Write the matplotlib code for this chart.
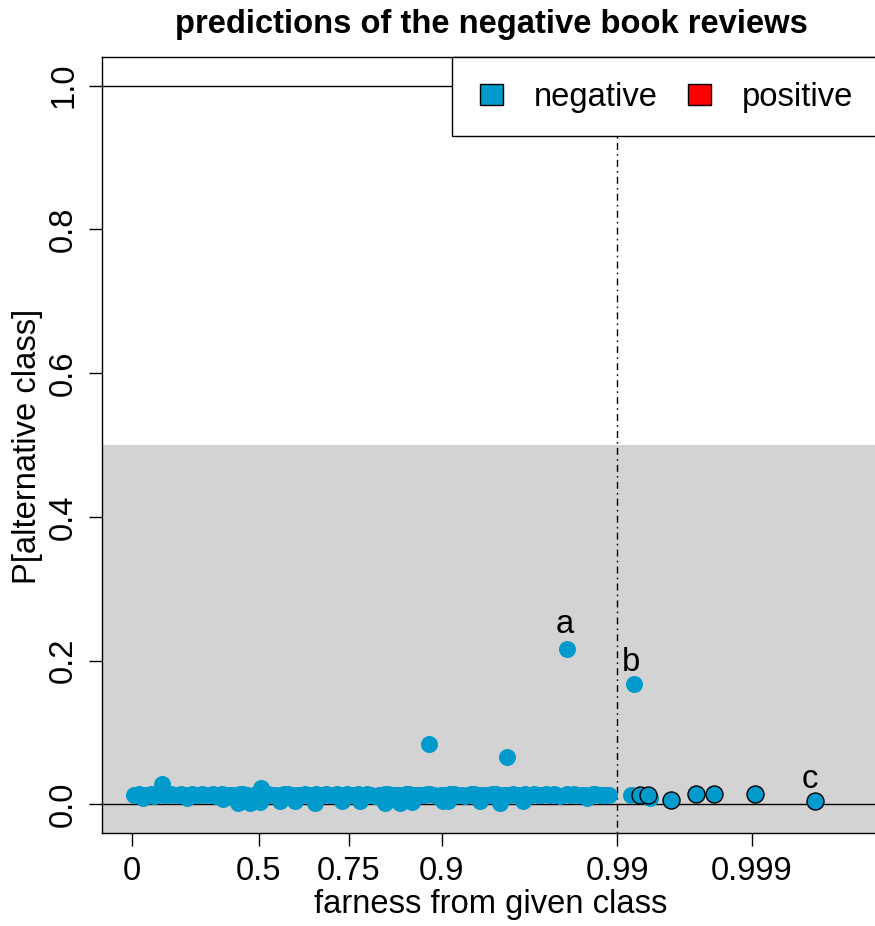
import math
import numpy as np
import matplotlib
matplotlib.use("Agg")
import matplotlib.pyplot as plt
from matplotlib.patches import Patch, Rectangle

plt.rcParams['font.family'] = ['Liberation Sans', 'DejaVu Sans']

# ---------------- data ----------------
title = "predictions of the negative book reviews"
xlabel = "farness from given class"
ylabel = "P[alternative class]"
legend_labels = ["negative", "positive"]
legend_colors = ["#009ACD", "#FF0000"]

x_ticks = [0, 0.5, 0.75, 0.9, 0.99, 0.999]
x_tick_labels = ["0", "0.5", "0.75", "0.9", "0.99", "0.999"]
y_ticks = [0.0, 0.2, 0.4, 0.6, 0.8, 1.0]
y_tick_labels = ["0.0", "0.2", "0.4", "0.6", "0.8", "1.0"]

# main band of negative reviews (farness, P[alternative])
band_x = [0.008, 0.032, 0.064, 0.096, 0.119, 0.151, 0.182, 0.205, 0.236, 0.266,
          0.289, 0.318, 0.347, 0.369, 0.397, 0.424, 0.445, 0.471, 0.497, 0.516,
          0.541, 0.564, 0.582, 0.604, 0.626, 0.642, 0.663, 0.683, 0.697, 0.715,
          0.733, 0.746, 0.762, 0.778, 0.789, 0.803, 0.816, 0.826, 0.838, 0.850,
          0.858, 0.869, 0.879, 0.886, 0.895, 0.903, 0.909, 0.916, 0.923, 0.928,
          0.934, 0.940, 0.944, 0.949, 0.953, 0.957, 0.961, 0.964, 0.967, 0.970,
          0.973, 0.975, 0.977, 0.980, 0.981, 0.983, 0.985, 0.986, 0.9876, 0.9886]
band_y = [0.013, 0.014, 0.013, 0.012, 0.014, 0.013, 0.013, 0.014, 0.012, 0.013,
          0.014, 0.013, 0.012, 0.014, 0.013, 0.013, 0.014, 0.012, 0.013, 0.014,
          0.013, 0.012, 0.014, 0.013, 0.013, 0.014, 0.012, 0.013, 0.014, 0.013,
          0.012, 0.014, 0.013, 0.013, 0.014, 0.012, 0.013, 0.014, 0.013, 0.012,
          0.014, 0.013, 0.013, 0.014, 0.012, 0.013, 0.014, 0.013, 0.012, 0.014,
          0.013, 0.013, 0.014, 0.012, 0.013, 0.014, 0.013, 0.012, 0.014, 0.013,
          0.013, 0.014, 0.012, 0.013, 0.014, 0.013, 0.012, 0.014, 0.013, 0.013]
band2_x = [0.020, 0.048, 0.080, 0.108, 0.135, 0.167, 0.194, 0.221, 0.251, 0.278,
           0.304, 0.333, 0.358, 0.383, 0.411, 0.435, 0.458, 0.484, 0.507, 0.529,
           0.553, 0.573, 0.593, 0.615, 0.634, 0.653, 0.673, 0.690, 0.706, 0.724,
           0.740, 0.754, 0.770, 0.784, 0.796, 0.810, 0.821, 0.832, 0.844, 0.854,
           0.864, 0.874, 0.883, 0.891, 0.899, 0.906, 0.913, 0.920, 0.926, 0.931,
           0.937, 0.942, 0.947, 0.951, 0.955, 0.959, 0.963, 0.966, 0.969, 0.972,
           0.974, 0.976, 0.979, 0.9805, 0.982, 0.984, 0.9855, 0.9868, 0.9881]
band2_y = [0.0135, 0.0125, 0.0140, 0.0135, 0.0125, 0.0140, 0.0135, 0.0130, 0.0140, 0.0125,
           0.0135, 0.0140, 0.0130, 0.0125, 0.0135, 0.0140, 0.0130, 0.0135, 0.0125, 0.0140,
           0.0135, 0.0130, 0.0140, 0.0125, 0.0135, 0.0130, 0.0140, 0.0135, 0.0125, 0.0140,
           0.0130, 0.0135, 0.0140, 0.0125, 0.0135, 0.0130, 0.0140, 0.0135, 0.0125, 0.0140,
           0.0130, 0.0135, 0.0140, 0.0125, 0.0135, 0.0130, 0.0140, 0.0135, 0.0125, 0.0140,
           0.0130, 0.0135, 0.0140, 0.0125, 0.0135, 0.0130, 0.0140, 0.0135, 0.0125, 0.0140,
           0.0130, 0.0135, 0.0140, 0.0125, 0.0135, 0.0130, 0.0140, 0.0135, 0.0130]

# points slightly below / above the band
low_x = [0.048, 0.2305, 0.372, 0.427, 0.470, 0.504, 0.568, 0.614, 0.669, 0.735,
         0.774, 0.821, 0.845, 0.863, 0.901, 0.907, 0.935, 0.949, 0.962, 0.9843]
low_y = [0.009, 0.009, 0.007, 0.002, 0.002, 0.003, 0.004, 0.004, 0.002, 0.004,
         0.004, 0.002, 0.002, 0.003, 0.004, 0.004, 0.004, 0.002, 0.005, 0.009]
high_x = [0.126, 0.507]
high_y = [0.028, 0.023]

# isolated points
iso_x = [0.885, 0.9535, 0.9791, 0.99235, 0.9919, 0.9940]
iso_y = [0.0834, 0.0663, 0.2156, 0.167, 0.013, 0.009]

# outlined points beyond 0.99
ring_x = [0.99300, 0.99385, 0.99575, 0.99722, 0.99800, 0.99905, 0.99971]
ring_y = [0.0125, 0.0125, 0.006, 0.014, 0.014, 0.014, 0.0045]

# labelled points
lab_text = ["a", "b", "c"]
lab_x = [0.9791, 0.99235, 0.99971]
lab_y = [0.2156, 0.167, 0.0045]

threshold_x = 0.99
gray_top = 0.5

# ---------------- half-normal quantile scale ----------------
_a = [-3.969683028665376e+01, 2.209460984245205e+02, -2.759285104469687e+02,
      1.383577518672690e+02, -3.066479806614716e+01, 2.506628277459239e+00]
_b = [-5.447609879822406e+01, 1.615858368580409e+02, -1.556989798598866e+02,
      6.680131188771972e+01, -1.328068155288572e+01]
_c = [-7.784894002430293e-03, -3.223964580411365e-01, -2.400758277161838e+00,
      -2.549732539343734e+00, 4.374664141464968e+00, 2.938163982698783e+00]
_d = [7.784695709041462e-03, 3.224671290700398e-01, 2.445134137142996e+00,
      3.754408661907416e+00]


def _tail(q):
    q = np.sqrt(-2.0 * np.log(q))
    num = ((((_c[0] * q + _c[1]) * q + _c[2]) * q + _c[3]) * q + _c[4]) * q + _c[5]
    den = (((_d[0] * q + _d[1]) * q + _d[2]) * q + _d[3]) * q + 1.0
    return num / den


def _ppf(p, pc):
    plow = 0.02425
    with np.errstate(all='ignore'):
        q = p - 0.5
        r = q * q
        central = (((((_a[0] * r + _a[1]) * r + _a[2]) * r + _a[3]) * r + _a[4]) * r + _a[5]) * q / \
                  (((((_b[0] * r + _b[1]) * r + _b[2]) * r + _b[3]) * r + _b[4]) * r + 1.0)
        low = _tail(np.clip(p, 1e-300, 1))
        high = -_tail(np.clip(pc, 1e-300, 1))
    return np.where(p < plow, low, np.where(pc < plow, high, central))


def fwd(x):
    x = np.clip(np.asarray(x, dtype=float), -1 + 1e-15, 1 - 1e-15)
    return _ppf((1 + x) / 2.0, (1 - x) / 2.0)


_erf = np.vectorize(math.erf)


def inv(t):
    t = np.asarray(t, dtype=float)
    return _erf(t / math.sqrt(2.0))


# ---------------- figure ----------------
fs = 23.6
blue = legend_colors[0]
fig = plt.figure(figsize=(8.75, 9.26), dpi=100)
ax = fig.add_axes([102 / 875, (926 - 833) / 926, 776 / 875, 776 / 926])
ax.set_xscale('function', functions=(fwd, inv))
ax.set_xlim(float(inv(-0.1576)), float(inv(3.959)))
ax.set_ylim(-0.04, 1.04)

ax.axhspan(-1, gray_top, color='#D3D3D3', lw=0, zorder=0.5)
ax.axhline(0, color='black', lw=1.0, zorder=1.5)
ax.axhline(1, color='black', lw=1.0, zorder=1.5)
ax.axvline(threshold_x, color='black', lw=1.0, linestyle=(0, (1.2, 3, 5, 3)), zorder=1.5)

ms = 150
ax.scatter(band_x, band_y, s=ms, color=blue, lw=0, zorder=2)
ax.scatter(band2_x, band2_y, s=ms, color=blue, lw=0, zorder=2)
ax.scatter(low_x, low_y, s=ms, color=blue, lw=0, zorder=2)
ax.scatter(high_x, high_y, s=ms, color=blue, lw=0, zorder=2)
ax.scatter(iso_x, iso_y, s=ms, color=blue, lw=0, zorder=2)
ax.scatter(ring_x, ring_y, s=ms, facecolor=blue, edgecolor='black', lw=1.0, zorder=3)

lab_off = [(-1.5, 12.0), (-2.7, 9.2), (-3.6, 9.7)]
for t, x, y, off in zip(lab_text, lab_x, lab_y, lab_off):
    ax.annotate(t, (x, y), xytext=off, textcoords='offset points',
                ha='center', va='baseline', fontsize=fs, zorder=4)

ax.set_xticks(x_ticks)
ax.set_xticklabels(x_tick_labels)
ax.xaxis.set_minor_locator(matplotlib.ticker.NullLocator())
ax.set_yticks(y_ticks)
ax.set_yticklabels(y_tick_labels, rotation=90, va='center')
ax.tick_params(axis='both', direction='out', length=9.5, width=1.0,
               labelsize=fs, pad=7, colors='black')
for sp in ax.spines.values():
    sp.set_linewidth(1.0)
    sp.set_color('black')

# legend box
rect = Rectangle((0.451, 0.898), 0.7, 0.102, transform=ax.transAxes,
                 facecolor='white', edgecolor='black', lw=1.0, zorder=5, clip_on=False)
ax.add_patch(rect)
handles = [Patch(facecolor=c, edgecolor='black', lw=1.0) for c in legend_colors]
leg = ax.legend(handles, legend_labels, ncol=2, frameon=False, loc='center left',
                bbox_to_anchor=(0.487, 0.9478), borderpad=0, borderaxespad=0,
                handlelength=0.70, handleheight=0.58, handletextpad=0.95,
                columnspacing=0.92, fontsize=fs)
leg.set_zorder(6)

fig.text(491 / 875, (926 - 33) / 926, title, ha='center', va='baseline',
         fontsize=fs, fontweight='bold')
fig.text(491 / 875, (926 - 912.7) / 926, xlabel, ha='center', va='baseline', fontsize=fs)
fig.text(28 / 875, (926 - 446) / 926, ylabel, ha='center', va='center',
         rotation=90, fontsize=fs)

fig.savefig("out.png", dpi=100)
